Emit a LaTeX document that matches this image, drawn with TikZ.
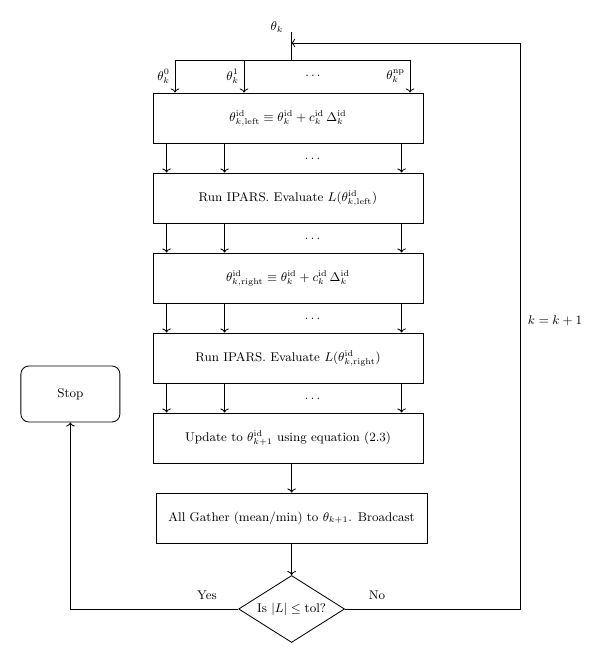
\documentclass[tikz,border=0pt]{standalone}
\usepackage{tikz}
\usetikzlibrary{arrows}
\usetikzlibrary{arrows.meta}
\usetikzlibrary{shapes.geometric}
\newcommand{\rid}{\mathrm{id}}

\begin{document}
\begin{tikzpicture}[semithick, font=\small,
  box/.style={draw, minimum width=6.75cm, minimum height=1.25cm, inner xsep=1pt},
  test/.style={draw, diamond, aspect=1.58, inner sep=0pt, minimum width=2.65cm, minimum height=1.675cm}]
\useasboundingbox (0,0) rectangle (15,16.6);
% boxes of the main column
\node[box] (left) at (7.2,13.65) {$\theta^{\rid}_{k,\mathrm{left}} \equiv \theta^{\rid}_k + c^{\rid}_k\,\Delta^{\rid}_k$};
\node[box] (runleft) at (7.2,11.65) {Run IPARS. Evaluate $L(\theta^{\rid}_{k,\mathrm{left}})$};
\node[box] (right) at (7.2,9.65) {$\theta^{\rid}_{k,\mathrm{right}} \equiv \theta^{\rid}_k + c^{\rid}_k\,\Delta^{\rid}_k$};
\node[box] (runright) at (7.2,7.65) {Run IPARS. Evaluate $L(\theta^{\rid}_{k,\mathrm{right}})$};
\node[box] (update) at (7.2,5.65) {Update to $\theta^{\rid}_{k+1}$ using equation (2.3)};
\node[box, minimum width=6.775cm] (gather) at (7.29,3.65) {All Gather (mean/min) to $\theta_{k+1}$. Broadcast};
\node[test] (tol) at (7.29,1.375) {Is $|L| \le \mathrm{tol}$?};
\node[draw, rounded corners=0.2cm, minimum width=2.475cm, minimum height=1.4cm] (stop) at (1.76,6.75) {Stop};
% input theta_k split to the processes
\coordinate (top) at (7.275,15.8);
\coordinate (split) at (7.275,15.1);
\coordinate (enter) at (7.275,15.525);
\coordinate (back) at (13,15.525);
\coordinate (s0) at (4.375,15.1);
\coordinate (s1) at (6.1,15.1);
\coordinate (s2) at (10.25,15.1);
\node at (6.925,15.925) {$\theta_k$};
\draw (top) -- (split);
\draw (s0) -- (s2);
\draw[->] (s0) -- (s0 |- left.north) node[midway, left] {$\theta^0_k$};
\draw[->] (s1) -- (s1 |- left.north) node[midway, left] {$\theta^1_k$};
\draw[->] (s2) -- (s2 |- left.north) node[midway, left] {$\theta^{\mathrm{np}}_k$};
\node at (7.825,14.7) {$\dots$};
% arrows between the boxes
\foreach \a/\b in {left/runleft, runleft/right, right/runright, runright/update} {
  \foreach \s in {0.35,1.8,6.225}
    \draw[->] ([xshift=\s cm]\a.south west) -- ([xshift=\s cm]\b.north west);
  \node at ([xshift=4cm,yshift=-0.375cm]\a.south west) {$\dots$};
}
\draw[->] (update.south -| gather.north) -- (gather.north);
\draw[->] (gather.south) -- (tol.north);
% decision
\draw[->] (tol.west) -| (stop.south);
\draw[->] (tol.east) -| (back) -- (enter);
\node at (5.175,1.725) {Yes};
\node at (9.425,1.725) {No};
\node at (13.875,8.575) {$k = k + 1$};
\end{tikzpicture}
\end{document}
